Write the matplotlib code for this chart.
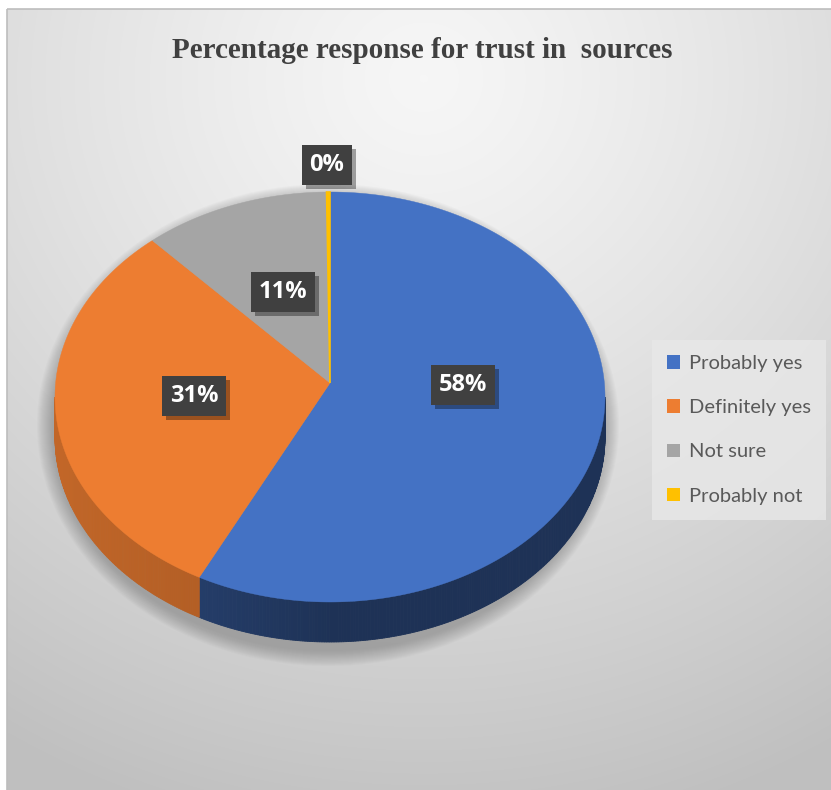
import numpy as np
import matplotlib
matplotlib.use("Agg")
import matplotlib.pyplot as plt
from matplotlib.patches import Polygon, Ellipse, Rectangle, Patch
import matplotlib.colors as mcolors
import matplotlib.patheffects as pe

# survey answers (percent of respondents)
categories = ["Probably yes", "Definitely yes", "Not sure", "Probably not"]
values = [58, 31, 11, 0.2]
colors = ["#4472c4", "#ed7d31", "#a5a5a5", "#ffc000"]

W, H = 831, 790
fig = plt.figure(figsize=(W / 100, H / 100), dpi=100)
ax = fig.add_axes([0, 0, 1, 1])
ax.set_xlim(0, W)
ax.set_ylim(H, 0)
ax.axis("off")

# chart area: radial grey gradient inside a thin frame
yy, xx = np.mgrid[0:H, 0:W]
d = np.hypot(xx - 420, (yy - 70) * 1.05) / 820
d = np.clip(d, 0, 1) ** 1.25
c0, c1 = 0.965, 0.75
bg = c0 + (c1 - c0) * d
img = np.dstack([bg, bg, bg])
ax.imshow(img, extent=[7, W, H, 9], zorder=0, aspect="auto")
ax.add_patch(Rectangle((7, 9), W, H, fill=False, ec="#bdbdbd", lw=1.2, zorder=1))

# pie geometry (pixels)
cx, cy = 330, 397
apex = (330, 383)
rx, ry = 275, 205
depth = 40


def ell(t):
    # t measured clockwise from 12 o'clock, degrees
    r = np.radians(t)
    return cx + rx * np.sin(r), cy - ry * np.cos(r)


# soft shadow around the disc
for k in range(16):
    grow = 16 - k
    ax.add_patch(Ellipse((cx - 2, cy + depth / 2 + 8), 2 * rx + 2 * grow, 2 * ry + depth + 2 * grow,
                         fc="#707070", ec="none", alpha=0.035, zorder=2))

total = sum(values)
bounds = np.concatenate([[0], np.cumsum(values) / total * 360])

# side walls (front half only: 90..270 degrees)
for i, col in enumerate(colors):
    a0, a1 = max(bounds[i], 90), min(bounds[i + 1], 270)
    if a1 <= a0:
        continue
    ts = np.linspace(a0, a1, max(2, int((a1 - a0) * 2)))
    base = np.array(mcolors.to_rgb(col))
    for t0, t1 in zip(ts[:-1], ts[1:]):
        tm = (t0 + t1) / 2
        s = max(0, np.sin(np.radians(tm - 180)))
        shade = 0.44 + 0.2 * s
        if col == colors[1]:
            shade = 0.70 + 0.12 * s
        c = np.clip(base * shade, 0, 1)
        x0, y0 = ell(t0)
        x1, y1 = ell(t1)
        ax.add_patch(Polygon([(x0, y0), (x1, y1), (x1, y1 + depth), (x0, y0 + depth)],
                             closed=True, fc=c, ec=c, lw=0.6, zorder=3))

# top face
for i, col in enumerate(colors):
    ts = np.linspace(bounds[i], bounds[i + 1], max(2, int((bounds[i + 1] - bounds[i]) * 2)))
    pts = [apex] + [ell(t) for t in ts]
    lw = 1.2 if values[i] < 1 else 0.3
    ax.add_patch(Polygon(pts, closed=True, fc=col, ec=col, lw=lw, zorder=4))

# data labels: dark boxes with a drop shadow
label_pos = [(463, 385), (194, 396), (283, 292), (327, 165)]
for v, (lx, ly) in zip(values, label_pos):
    txt = f"{round(v / total * 100):.0f}%"
    t = ax.text(lx, ly, txt, ha="center", va="center", fontsize=17, fontweight="bold",
                family="Open Sans", color="white", zorder=6,
                bbox=dict(boxstyle="square,pad=0.33", fc="#404040", ec="none"))
    t.get_bbox_patch().set_path_effects([
        pe.SimplePatchShadow(offset=(3, -3), shadow_rgbFace="black", alpha=0.35),
        pe.Normal()])

# title
ax.text(422, 50, "Percentage response for trust in  sources", ha="center", va="center",
        fontsize=21, fontweight="bold", family="Liberation Serif", color="#404040", zorder=6)

# legend
handles = [Patch(fc=c, ec="none") for c in colors]
leg = ax.legend(handles, categories, loc="upper left", bbox_to_anchor=(652 / W, 1 - 340 / H),
                bbox_transform=fig.transFigure, frameon=True, fancybox=False,
                prop=dict(family="Lato", size=14.5), labelcolor="#595959",
                handlelength=0.65, handleheight=0.65, handletextpad=0.45,
                labelspacing=1.35, borderpad=0.75, borderaxespad=0)
leg.get_frame().set_facecolor("#e8e8e8")
leg.get_frame().set_edgecolor("none")
leg.get_frame().set_alpha(0.8)
leg.set_zorder(7)

fig.savefig("out.png", dpi=100)
